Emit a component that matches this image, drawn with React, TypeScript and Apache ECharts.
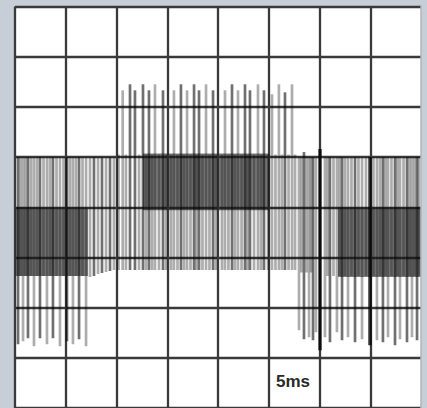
import React, { useEffect, useRef } from "react";
import * as echarts from "echarts";

// time axis in ms (5 ms / div), vertical axis in divisions
const xTicks = [0, 5, 10, 15, 20, 25, 30, 35, 40];
const timeLabel = "5ms";

// left burst: long pulses
const leftLongX = [0.3, 0.79, 1.28, 1.87, 2.46, 3.15, 3.74, 4.43, 5.12, 5.71, 6.31, 7.0];
const leftLongBottom = [-2.73, -2.67, -2.61, -2.77, -2.61, -2.73, -2.61, -2.77, -2.67, -2.73, -2.63, -2.77];
const leftLongShade = [1, 0, 1, 0, 1, 0, 1, 0, 1, 0, 1, 0];
// left burst: short pulses
const leftShortX = [0.54, 1.03, 1.58, 2.17, 2.81, 3.45, 4.09, 4.78, 5.42, 6.01, 6.65];
const leftShortBottom = [-1.37, -1.37, -1.37, -1.37, -1.37, -1.37, -1.37, -1.37, -1.37, -1.37, -1.37];
// transition pulses
const transX = [7.39, 7.78, 8.18, 8.57, 8.97, 9.36, 9.75];
const transBottom = [-1.39, -1.37, -1.33, -1.31, -1.29, -1.27, -1.25];
const lowBandTop = 1.0;

// middle burst: tall pulses
const tallX = [10.61, 11.33, 11.82, 12.61, 13.2, 13.79, 14.58, 15.66, 16.35, 16.95, 17.64, 18.13, 18.82, 19.51, 20.69, 21.38, 21.97, 22.66, 23.15, 23.94, 24.53, 25.32, 26.0, 26.6, 27.29];
const tallTop = [2.33, 2.45, 2.33, 2.45, 2.33, 2.45, 2.33, 2.33, 2.45, 2.33, 2.45, 2.33, 2.45, 2.33, 2.33, 2.45, 2.33, 2.45, 2.33, 2.45, 2.33, 2.25, 2.45, 2.29, 2.45];
const tallShade = [0, 1, 1, 1, 1, 0, 1, 0, 1, 0, 1, 1, 0, 1, 0, 1, 0, 1, 1, 0, 1, 0, 0, 1, 0];
const midBottom = -1.25;
// middle burst: short pulses
const midShortX = [10.2, 10.93, 12.22, 12.91, 13.5, 14.19, 14.88, 15.37, 16.01, 16.65, 17.29, 17.88, 18.47, 19.16, 19.8, 20.39, 21.03, 21.67, 22.32, 22.91, 23.55, 24.24, 24.93, 25.66, 26.3, 26.95, 27.59];
const midShortTop = 1.05;

// right burst
const edgeX = [27.98, 28.47, 28.97, 29.36, 29.65, 30.05];
const edgeTop = [1.0, 1.1, 1.0, 1.0, 1.0, 1.16];
const edgeBottom = [-2.45, -2.63, -2.59, -2.65, -2.49, -2.85];
const edgeShade = [0, 1, 0, 1, 0, 2];
const edgeShortX = [28.22, 28.72, 29.16];
const edgeShortBottom = -1.3;
const rightLongX = [30.54, 31.03, 31.72, 32.22, 32.81, 33.5, 34.19, 34.97, 35.66, 36.25, 36.75, 37.44, 37.93, 38.62, 39.11, 39.61];
const rightLongBottom = [-2.59, -2.69, -2.49, -2.65, -2.59, -2.69, -2.63, -2.75, -2.65, -2.69, -2.59, -2.75, -2.63, -2.69, -2.59, -2.65];
const rightLongShade = [0, 1, 0, 1, 0, 1, 0, 2, 0, 1, 0, 1, 0, 1, 0, 1];
const rightShortX = [30.79, 31.38, 31.97, 32.51, 33.15, 33.84, 34.58, 35.32, 35.96, 36.5, 37.09, 37.68, 38.28, 38.87, 39.36, 39.8];
const rightShortBottom = -1.37;

// dense (dark) blocks: [xStart, xEnd, top, bottom]
const blockStart = [0, 12.61, 31.82];
const blockEnd = [7.19, 25.12, 40];
const blockTop = [0.0, 1.07, 0.0];
const blockBottom = [-1.37, -0.06, -1.39];

const shades = ["rgba(0,0,0,0.32)", "rgba(0,0,0,0.56)", "rgba(0,0,0,0.78)"];

export default function App() {
  const ref = useRef<HTMLDivElement>(null);
  useEffect(() => {
    if (!ref.current) return;
    const chart = echarts.init(ref.current, undefined, { renderer: "svg" });

    const pulses: number[][] = [];
    leftLongX.forEach((x, i) => pulses.push([x, lowBandTop, leftLongBottom[i], leftLongShade[i]]));
    leftShortX.forEach((x, i) => pulses.push([x, lowBandTop, leftShortBottom[i], 0]));
    transX.forEach((x, i) => pulses.push([x, lowBandTop, transBottom[i], i % 2]));
    midShortX.forEach((x) => pulses.push([x, midShortTop, midBottom, 0]));
    tallX.forEach((x, i) => pulses.push([x, tallTop[i], midBottom, tallShade[i]]));
    edgeShortX.forEach((x) => pulses.push([x, lowBandTop, edgeShortBottom, 0]));
    edgeX.forEach((x, i) => pulses.push([x, edgeTop[i], edgeBottom[i], edgeShade[i]]));
    rightShortX.forEach((x) => pulses.push([x, lowBandTop, rightShortBottom, 0]));
    rightLongX.forEach((x, i) => pulses.push([x, lowBandTop, rightLongBottom[i], rightLongShade[i]]));

    const blocks = blockStart.map((s, i) => [s, blockEnd[i], blockTop[i], blockBottom[i]]);

    const split = { show: true, lineStyle: { color: "#3a3a3a", width: 2.3 } };

    chart.setOption({
      animation: false,
      backgroundColor: "#c8ced8",
      grid: { left: 15, top: 6.5, width: 406, height: 404.8, show: true, backgroundColor: "#ffffff", borderWidth: 0 },
      xAxis: {
        type: "value", min: xTicks[0], max: xTicks[xTicks.length - 1], interval: 5,
        axisLine: { show: false }, axisTick: { show: false }, axisLabel: { show: false },
        splitLine: { ...split, showMaxLine: false },
      },
      yAxis: {
        type: "value", min: -4, max: 4, interval: 1,
        axisLine: { show: false }, axisTick: { show: false }, axisLabel: { show: false },
        splitLine: split,
      },
      series: [
        {
          type: "custom",
          data: blocks,
          encode: { x: [0, 1], y: [2, 3] },
          renderItem: (params: any, api: any) => {
            const p1 = api.coord([api.value(0), api.value(2)]);
            const p2 = api.coord([api.value(1), api.value(3)]);
            return {
              type: "rect",
              shape: { x: p1[0], y: p1[1], width: p2[0] - p1[0], height: p2[1] - p1[1] },
              style: { fill: "rgba(40,40,40,0.6)" },
            };
          },
          z: 2,
        },
        {
          type: "custom",
          data: pulses,
          encode: { x: 0, y: [1, 2] },
          renderItem: (params: any, api: any) => {
            const x = api.value(0);
            const p1 = api.coord([x, api.value(1)]);
            const p2 = api.coord([x, api.value(2)]);
            const sh = api.value(3);
            return {
              type: "line",
              shape: { x1: p1[0], y1: p1[1], x2: p2[0], y2: p2[1] },
              style: { stroke: shades[sh], lineWidth: sh === 2 ? 3.4 : 2.7 },
            };
          },
          z: 3,
        },
      ],
      graphic: [
        { type: "line", shape: { x1: 421, y1: 5.5, x2: 421, y2: 408 }, style: { stroke: "#b4b4b4", lineWidth: 1.5 }, z: 10 },
        {
          type: "text", left: 276, top: 373, z: 10,
          style: { text: timeLabel, fill: "#2a2a2a", font: "bold 17px 'Liberation Sans', Arial, sans-serif" },
        },
      ],
    });
    return () => chart.dispose();
  }, []);
  return <div ref={ref} style={{ position: "fixed", left: 0, top: 0, width: 427, height: 408 }} />;
}
